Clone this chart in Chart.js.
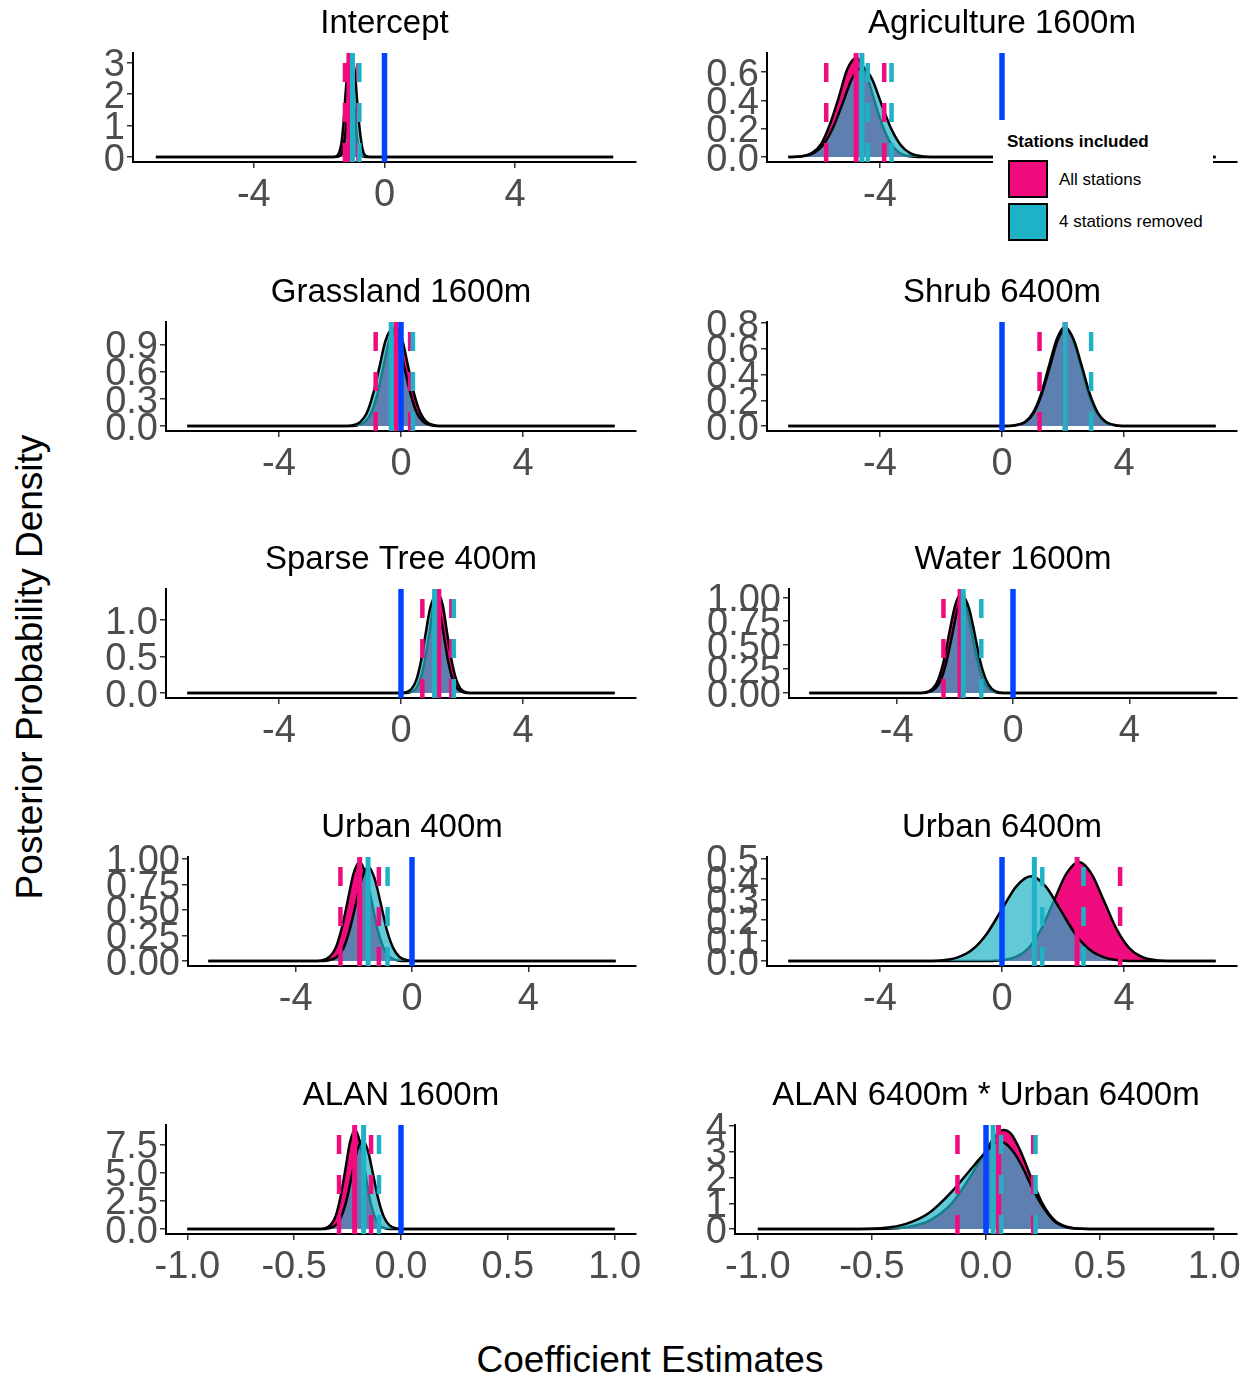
<!DOCTYPE html>
<html>
<head>
<meta charset="utf-8">
<title>Posterior densities</title>
<script src="https://cdn.jsdelivr.net/npm/chart.js@4.4.1/dist/chart.umd.min.js"></script>
<style>
  body { margin: 0; background: #fff; overflow: hidden; }
  #page { position: relative; width: 1252px; height: 1380px; font-family: 'Liberation Sans', Arial, sans-serif; }
  #page canvas { position: absolute; }
  .axis-title { position: absolute; font-size: 37px; color: #000; white-space: nowrap; transform: translate(-50%, -50%); }
  #ylab { left: 30px; top: 667px; transform: translate(-50%, -50%) rotate(-90deg); }
  #xlab { left: 650px; top: 1360px; }
  #legend { position: absolute; left: 993px; top: 120px; width: 220px; height: 130px; background: #fff; }
  #legend div { position: absolute; white-space: nowrap; font-size: 17px; line-height: 20px; color: #000; }
  #legend .ltitle { left: 14px; top: 12px; font-weight: bold; }
  #legend .key { left: 15px; width: 40px; height: 38px; box-sizing: border-box; border: 2px solid #000; }
  #legend .lab { left: 66px; }
</style>
</head>
<body>
<div id="page">
  <div class="axis-title" id="ylab">Posterior Probability Density</div>
  <div class="axis-title" id="xlab">Coefficient Estimates</div>
</div>
<script>
Chart.defaults.font.family = "'Liberation Sans', Arial, sans-serif";

const PINK = '#F00C7E';
const TEAL = '#1FB2C6';
const TEAL_FILL = 'rgba(31, 178, 198, 0.7)';
const BLUE = '#0044FF';
const TICK_TEXT = '#4D4D4D';

const panelTitles = ['Intercept', 'Agriculture 1600m', 'Grassland 1600m', 'Shrub 6400m', 'Sparse Tree 400m',
  'Water 1600m', 'Urban 400m', 'Urban 6400m', 'ALAN 1600m', 'ALAN 6400m * Urban 6400m'];
const seriesNames = ['All stations', '4 stations removed'];

// x axis ticks and limits
const wideTicks = ['-4', '0', '4'];
const narrowTicks = ['-1.0', '-0.5', '0.0', '0.5', '1.0'];
const wideRange = [-7.7, 7.7];
const narrowRange = [-1.1, 1.1];

// y axis ticks per panel
const yTicks = [
  ['0', '1', '2', '3'],
  ['0.0', '0.2', '0.4', '0.6'],
  ['0.0', '0.3', '0.6', '0.9'],
  ['0.0', '0.2', '0.4', '0.6', '0.8'],
  ['0.0', '0.5', '1.0'],
  ['0.00', '0.25', '0.50', '0.75', '1.00'],
  ['0.00', '0.25', '0.50', '0.75', '1.00'],
  ['0.0', '0.1', '0.2', '0.3', '0.4', '0.5'],
  ['0.0', '2.5', '5.0', '7.5'],
  ['0', '1', '2', '3', '4']
];

// posterior densities, [estimate, density]
const interceptAll = [[-7,0],[-1.58,0],[-1.48,0.02],[-1.39,0.14],[-1.32,0.43],[-1.26,1.02],[-1.20,1.91],[-1.13,2.78],[-1.07,3.15],[-1.01,2.78],[-0.94,1.91],[-0.88,1.02],[-0.82,0.43],[-0.75,0.14],[-0.66,0.02],[-0.56,0],[7,0]];
const interceptRemoved = [[-7,0],[-1.50,0],[-1.40,0.02],[-1.30,0.13],[-1.24,0.41],[-1.17,0.98],[-1.10,1.82],[-1.04,2.65],[-0.97,3.0],[-0.90,2.65],[-0.84,1.82],[-0.77,0.98],[-0.70,0.41],[-0.64,0.13],[-0.54,0.02],[-0.44,0],[7,0]];
const agricultureAll = [[-7,0],[-6.60,0.004],[-6.21,0.031],[-5.92,0.095],[-5.64,0.23],[-5.35,0.42],[-5.07,0.62],[-4.78,0.70],[-4.50,0.62],[-4.21,0.42],[-3.93,0.23],[-3.64,0.095],[-3.36,0.031],[-2.96,0.004],[-2.50,0],[7,0]];
const agricultureRemoved = [[-7,0],[-6.62,0.004],[-6.17,0.028],[-5.86,0.085],[-5.54,0.205],[-5.22,0.38],[-4.91,0.556],[-4.59,0.63],[-4.27,0.556],[-3.96,0.38],[-3.64,0.205],[-3.32,0.085],[-3.01,0.028],[-2.56,0.004],[-2.06,0],[7,0]];
const grasslandAll = [[-7,0],[-1.77,0],[-1.45,0.007],[-1.17,0.048],[-0.97,0.149],[-0.77,0.357],[-0.57,0.668],[-0.37,0.970],[-0.17,1.10],[0.03,0.970],[0.23,0.668],[0.43,0.357],[0.63,0.149],[0.83,0.048],[1.11,0.007],[1.43,0],[7,0]];
const grasslandRemoved = [[-7,0],[-1.94,0],[-1.61,0.006],[-1.33,0.047],[-1.12,0.144],[-0.92,0.348],[-0.71,0.649],[-0.51,0.944],[-0.30,1.07],[-0.10,0.944],[0.11,0.649],[0.32,0.348],[0.52,0.144],[0.73,0.047],[1.01,0.006],[1.34,0],[7,0]];
const shrubAll = [[-7,0],[-0.02,0],[0.40,0.005],[0.76,0.034],[1.02,0.104],[1.28,0.250],[1.54,0.467],[1.80,0.679],[2.06,0.77],[2.32,0.679],[2.58,0.467],[2.84,0.250],[3.10,0.104],[3.36,0.034],[3.72,0.005],[4.14,0],[7,0]];
const shrubRemoved = [[-7,0],[-0.01,0],[0.41,0.005],[0.78,0.033],[1.04,0.103],[1.30,0.247],[1.57,0.461],[1.83,0.670],[2.09,0.76],[2.35,0.670],[2.62,0.461],[2.88,0.247],[3.14,0.103],[3.40,0.033],[3.77,0.005],[4.19,0],[7,0]];
const sparseTreeAll = [[-7,0],[0.05,0],[0.28,0.008],[0.49,0.060],[0.63,0.184],[0.78,0.442],[0.93,0.826],[1.07,1.20],[1.22,1.36],[1.37,1.20],[1.51,0.826],[1.66,0.442],[1.81,0.184],[1.95,0.060],[2.16,0.008],[2.39,0],[7,0]];
const sparseTreeRemoved = [[-7,0],[-0.10,0],[0.14,0.008],[0.35,0.058],[0.50,0.177],[0.65,0.426],[0.80,0.795],[0.95,1.155],[1.10,1.31],[1.25,1.155],[1.40,0.795],[1.55,0.426],[1.70,0.177],[1.85,0.058],[2.06,0.008],[2.30,0],[7,0]];
const waterAll = [[-7,0],[-3.34,0],[-3.03,0.006],[-2.76,0.046],[-2.57,0.140],[-2.38,0.336],[-2.19,0.628],[-1.99,0.913],[-1.80,1.035],[-1.61,0.913],[-1.42,0.628],[-1.22,0.336],[-1.03,0.140],[-0.84,0.046],[-0.57,0.006],[-0.26,0],[7,0]];
const waterRemoved = [[-7,0],[-3.26,0],[-2.95,0.006],[-2.68,0.044],[-2.48,0.135],[-2.29,0.325],[-2.09,0.607],[-1.90,0.882],[-1.70,1.0],[-1.51,0.882],[-1.31,0.607],[-1.12,0.325],[-0.92,0.135],[-0.73,0.044],[-0.45,0.006],[-0.14,0],[7,0]];
const urban400All = [[-7,0],[-3.44,0],[-3.11,0.006],[-2.83,0.043],[-2.62,0.131],[-2.42,0.315],[-2.21,0.589],[-2.01,0.856],[-1.80,0.97],[-1.60,0.856],[-1.39,0.589],[-1.19,0.315],[-0.98,0.131],[-0.78,0.043],[-0.49,0.006],[-0.16,0],[7,0]];
const urban400Removed = [[-7,0],[-3.22,0],[-2.88,0.006],[-2.58,0.040],[-2.36,0.124],[-2.15,0.299],[-1.93,0.558],[-1.72,0.811],[-1.50,0.92],[-1.29,0.811],[-1.07,0.558],[-0.86,0.299],[-0.64,0.124],[-0.43,0.040],[-0.12,0.006],[0.22,0],[7,0]];
const urban6400All = [[-7,0],[-0.76,0],[-0.10,0.003],[0.47,0.021],[0.88,0.065],[1.29,0.157],[1.70,0.294],[2.11,0.427],[2.52,0.484],[2.93,0.427],[3.34,0.294],[3.75,0.157],[4.16,0.065],[4.57,0.021],[5.14,0.003],[5.80,0],[7,0]];
const urban6400Removed = [[-7,0],[-2.89,0],[-2.12,0.002],[-1.45,0.018],[-0.97,0.056],[-0.49,0.135],[-0.01,0.251],[0.47,0.365],[0.95,0.414],[1.43,0.365],[1.91,0.251],[2.39,0.135],[2.87,0.056],[3.35,0.018],[4.02,0.002],[4.79,0],[7,0]];
const alan1600All = [[-1,0],[-0.395,0],[-0.359,0.05],[-0.328,0.39],[-0.305,1.19],[-0.283,2.87],[-0.26,5.35],[-0.238,7.78],[-0.215,8.82],[-0.193,7.78],[-0.17,5.35],[-0.148,2.87],[-0.125,1.19],[-0.103,0.39],[-0.071,0.05],[-0.035,0],[1,0]];
const alan1600Removed = [[-1,0],[-0.38,0],[-0.34,0.05],[-0.305,0.35],[-0.28,1.07],[-0.255,2.57],[-0.23,4.80],[-0.205,6.97],[-0.18,7.9],[-0.155,6.97],[-0.13,4.80],[-0.105,2.57],[-0.08,1.07],[-0.055,0.35],[-0.02,0.05],[0.02,0],[1,0]];
const alanUrbanAll = [[-1,0],[-0.60,0],[-0.45,0.01],[-0.35,0.07],[-0.25,0.32],[-0.15,1.0],[-0.05,2.3],[0,3.05],[0.04,3.6],[0.075,3.85],[0.11,3.7],[0.15,3.05],[0.2,1.95],[0.25,0.95],[0.3,0.35],[0.35,0.1],[0.42,0.01],[0.5,0],[1,0]];
const alanUrbanRemoved = [[-1,0],[-0.60,0],[-0.45,0.04],[-0.35,0.2],[-0.25,0.62],[-0.15,1.45],[-0.05,2.5],[0,3.0],[0.05,3.38],[0.08,3.35],[0.12,3.0],[0.16,2.4],[0.2,1.65],[0.25,0.85],[0.3,0.3],[0.35,0.08],[0.42,0.01],[0.5,0],[1,0]];

const allStations = [interceptAll, agricultureAll, grasslandAll, shrubAll, sparseTreeAll, waterAll, urban400All, urban6400All, alan1600All, alanUrbanAll];
const stationsRemoved = [interceptRemoved, agricultureRemoved, grasslandRemoved, shrubRemoved, sparseTreeRemoved, waterRemoved, urban400Removed, urban6400Removed, alan1600Removed, alanUrbanRemoved];

// posterior means (solid) and interval lines (dashed)
const allMeans = [-1.09, -4.78, -0.16, 2.07, 1.24, -1.82, -1.80, 2.46, -0.217, 0.055];
const removedMeans = [-0.98, -4.59, -0.32, 2.07, 1.10, -1.71, -1.51, 1.06, -0.175, 0.031];
const allIntervals = [[-1.21, -0.80], [-5.76, -3.86], [-0.83, 0.30], [1.23], [0.70, 1.65], [-2.39], [-2.46, -1.14], [3.87], [-0.29, -0.14], [-0.125, 0.207]];
const removedIntervals = [[-0.77], [-4.40, -3.62], [0.39], [2.92], [1.73], [-1.09], [-0.84], [1.32, 2.67], [-0.103], [0.066, 0.217]];

// page layout
const columnLeft = [60, 661];
const canvasRightPad = [40, 14];
const plotRight = [636, 1237];
const rowTop = [0, 269, 536, 804, 1072];
const panelAxisX = [133, 767, 166, 767, 166, 789, 188, 767, 166, 735];
const CANVAS_H = 222;
const X_AXIS_H = 60;

// vertical reference lines: zero, means and intervals
const markerLines = {
  id: 'markerLines',
  afterDatasetsDraw(chart, args, opts) {
    const { ctx, chartArea, scales: { x } } = chart;
    const vline = (value, color, width, dash) => {
      const px = x.getPixelForValue(value);
      ctx.save();
      ctx.beginPath();
      ctx.strokeStyle = color;
      ctx.lineWidth = width;
      ctx.lineCap = 'butt';
      ctx.setLineDash(dash || []);
      ctx.moveTo(px, chartArea.bottom);
      ctx.lineTo(px, chartArea.top);
      ctx.stroke();
      ctx.restore();
    };
    vline(opts.allMean, PINK, 5);
    vline(opts.removedMean, TEAL, 5);
    opts.allIntervals.forEach(v => vline(v, PINK, 4.5, [19, 21]));
    opts.removedIntervals.forEach(v => vline(v, TEAL, 4.5, [19, 21]));
    vline(0, BLUE, 5.5);
  }
};

const page = document.getElementById('page');

panelTitles.forEach((title, i) => {
  const col = i % 2;
  const row = Math.floor(i / 2);
  const left = columnLeft[col];
  const width = plotRight[col] + canvasRightPad[col] - left;

  const canvas = document.createElement('canvas');
  canvas.width = width;
  canvas.height = CANVAS_H;
  canvas.style.left = left + 'px';
  canvas.style.top = rowTop[row] + 'px';
  page.appendChild(canvas);

  const narrow = i >= 8;
  const xLabels = narrow ? narrowTicks : wideTicks;
  const xRange = narrow ? narrowRange : wideRange;
  const yLabels = yTicks[i];
  const peak = Math.max(...allStations[i].map(p => p[1]), ...stationsRemoved[i].map(p => p[1]));

  const grid = { drawOnChartArea: false, drawTicks: true, tickLength: 6, color: '#333333', lineWidth: 1.5 };
  const border = { display: true, color: '#000', width: 2 };
  const tickFont = { size: 38 };

  new Chart(canvas, {
    type: 'line',
    data: {
      datasets: [
        { label: seriesNames[0], data: allStations[i], order: 2, fill: 'origin', backgroundColor: PINK },
        { label: seriesNames[1], data: stationsRemoved[i], order: 1, fill: 'origin', backgroundColor: TEAL_FILL }
      ]
    },
    options: {
      responsive: false,
      animation: false,
      layout: { padding: { left: 0, right: canvasRightPad[col], top: 0, bottom: 0 } },
      elements: {
        point: { radius: 0 },
        line: { borderColor: '#000', borderWidth: 2.5, cubicInterpolationMode: 'monotone' }
      },
      plugins: {
        legend: { display: false },
        tooltip: { enabled: false },
        title: {
          display: true, text: title, fullSize: false, color: '#000',
          font: { size: 33, weight: 'normal', lineHeight: 1.2 },
          padding: { top: 4, bottom: 9.4 }
        },
        markerLines: {
          allMean: allMeans[i], removedMean: removedMeans[i],
          allIntervals: allIntervals[i], removedIntervals: removedIntervals[i]
        }
      },
      scales: {
        x: {
          type: 'linear', min: xRange[0], max: xRange[1],
          afterBuildTicks: s => { s.ticks = xLabels.map(t => ({ value: Number(t) })); },
          afterFit: s => { s.height = X_AXIS_H; },
          ticks: { autoSkip: false, maxRotation: 0, padding: 5, color: TICK_TEXT, font: tickFont, callback: (v, k) => xLabels[k] },
          grid, border
        },
        y: {
          type: 'linear', min: -0.05 * peak, max: 1.05 * peak,
          afterBuildTicks: s => { s.ticks = yLabels.map(t => ({ value: Number(t) })); },
          afterFit: s => { s.width = panelAxisX[i] - left; },
          ticks: { autoSkip: false, padding: 2, labelOffset: 3, color: TICK_TEXT, font: tickFont, callback: (v, k) => yLabels[k] },
          grid, border
        }
      }
    },
    plugins: [markerLines]
  });
});

// legend drawn over the upper right panel
const legend = document.createElement('div');
legend.id = 'legend';
legend.innerHTML =
  '<div class="ltitle">Stations included</div>' +
  '<div class="key" style="top:40px;background:' + PINK + '"></div>' +
  '<div class="lab" style="top:50px">' + seriesNames[0] + '</div>' +
  '<div class="key" style="top:83px;background:' + TEAL + '"></div>' +
  '<div class="lab" style="top:92px">' + seriesNames[1] + '</div>';
page.appendChild(legend);
</script>
</body>
</html>
